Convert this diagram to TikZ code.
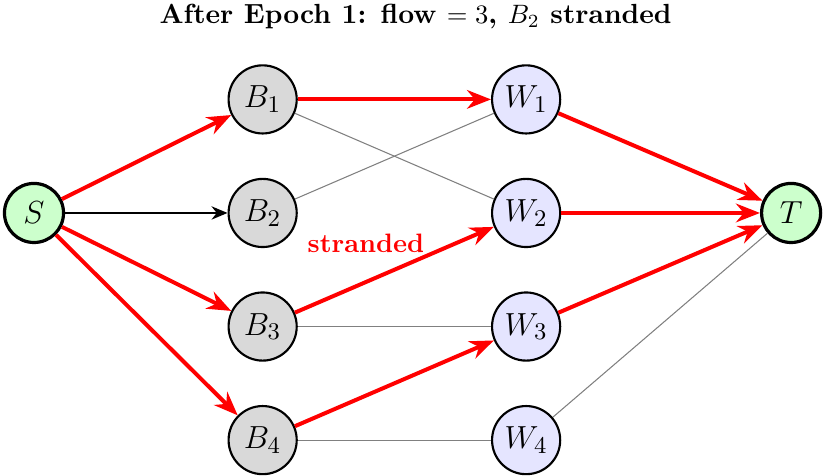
\documentclass[tikz,border=0pt]{standalone}
\usetikzlibrary{arrows.meta}
\begin{document}
\begin{tikzpicture}[
  vert/.style={circle, draw, line width=0.8pt, minimum size=0.9cm, inner sep=0pt, font=\fontsize{13}{15}\selectfont},
  endpt/.style={vert, line width=1.2pt, minimum size=0.78cm, fill=green!20},
  bin/.style={vert, fill=gray!30},
  worker/.style={vert, fill=blue!10},
  flowedge/.style={red, line width=1.5pt, -{Stealth[length=9pt,width=7pt]}},
  plainedge/.style={black, line width=0.75pt, -{Stealth[length=6pt,width=5pt]}},
  idleedge/.style={gray, line width=0.4pt}
]
\useasboundingbox (-0.449,-3.474) rectangle (10.421,2.813);

\node[font=\fontsize{10.4}{12}\selectfont\bfseries] (title) at (5.04,2.59) {After Epoch 1: flow $=3$, $B_2$ stranded};

\node[endpt] (S) at (0,0) {$S$};
\node[endpt] (T) at (10,0) {$T$};

\node[bin] (B1) at (3.02,1.5) {$B_1$};
\node[bin] (B2) at (3.02,0) {$B_2$};
\node[bin] (B3) at (3.02,-1.5) {$B_3$};
\node[bin] (B4) at (3.02,-3) {$B_4$};

\node[worker] (W1) at (6.5,1.5) {$W_1$};
\node[worker] (W2) at (6.5,0) {$W_2$};
\node[worker] (W3) at (6.5,-1.5) {$W_3$};
\node[worker] (W4) at (6.5,-3) {$W_4$};

% unused capacity
\draw[idleedge] (B1) -- (W2);
\draw[idleedge] (B2) -- (W1);
\draw[idleedge] (B3) -- (W3);
\draw[idleedge] (B4) -- (W4);
\draw[idleedge] (W4) -- (T);

% source to bins
\draw[flowedge] (S) -- (B1);
\draw[plainedge] (S) -- (B2);
\draw[flowedge] (S) -- (B3);
\draw[flowedge] (S) -- (B4);

% matched pairs
\draw[flowedge] (B1) -- (W1);
\draw[flowedge] (B3) -- (W2);
\draw[flowedge] (B4) -- (W3);

% workers to sink
\draw[flowedge] (W1) -- (T);
\draw[flowedge] (W2) -- (T);
\draw[flowedge] (W3) -- (T);

\node[red, font=\bfseries] (lbl) at (4.385,-0.40) {stranded};
\end{tikzpicture}
\end{document}
